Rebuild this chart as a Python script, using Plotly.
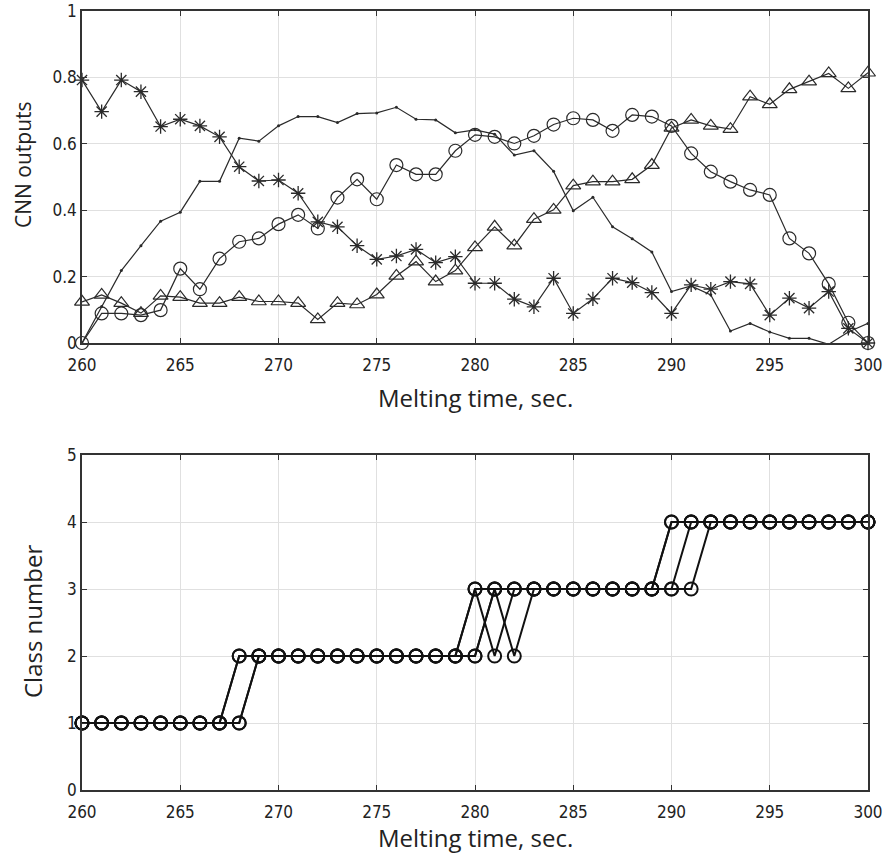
import plotly.graph_objects as go

t = list(range(260, 301))

dots = [0.0, 0.11, 0.218, 0.293, 0.367, 0.394, 0.487, 0.487, 0.617, 0.608, 0.654,
        0.682, 0.682, 0.664, 0.691, 0.693, 0.71, 0.674, 0.672, 0.633, 0.642,
        0.629, 0.566, 0.579, 0.517, 0.398, 0.439, 0.350, 0.314, 0.274, 0.155,
        0.172, 0.145, 0.036, 0.059, 0.033, 0.014, 0.014, -0.004, 0.033, 0.059]

stars = [0.792, 0.697, 0.792, 0.757, 0.652, 0.674, 0.654, 0.621, 0.531, 0.488, 0.491,
         0.451, 0.365, 0.350, 0.293, 0.252, 0.262, 0.282, 0.242, 0.260, 0.180,
         0.180, 0.132, 0.109, 0.195, 0.089, 0.133, 0.195, 0.182, 0.152, 0.089,
         0.175, 0.162, 0.185, 0.178, 0.084, 0.135, 0.105, 0.155, 0.044, 0.0]

circles = [0.0, 0.089, 0.089, 0.084, 0.099, 0.224, 0.162, 0.254, 0.305, 0.315, 0.358,
           0.386, 0.345, 0.438, 0.493, 0.433, 0.536, 0.508, 0.508, 0.579, 0.627,
           0.621, 0.601, 0.624, 0.658, 0.677, 0.672, 0.639, 0.687, 0.682, 0.654,
           0.571, 0.516, 0.486, 0.461, 0.446, 0.315, 0.270, 0.178, 0.061, 0.0]

triangles = [0.124, 0.145, 0.120, 0.09, 0.142, 0.138, 0.12, 0.12, 0.138, 0.125, 0.125,
             0.12, 0.071, 0.12, 0.116, 0.146, 0.202, 0.245, 0.185, 0.218, 0.288,
             0.350, 0.293, 0.373, 0.401, 0.474, 0.486, 0.486, 0.493, 0.536, 0.648,
             0.672, 0.654, 0.644, 0.742, 0.719, 0.764, 0.787, 0.812, 0.767, 0.814]

# Class number sequences (several runs)
class_a = [1]*8 + [2]*12 + [3]*10 + [4]*11          # 260-267:1, 268-279:2, 280-289:3, 290-300:4
class_b = [1]*9 + [2]*12 + [3]*10 + [4]*10          # 260-268:1, 269-280:2, 281-290:3, 291-300:4
class_c = [1]*8 + [2]*12 + [3, 2] + [3]*10 + [4]*9  # 280:3, 281:2, 282-291:3, 292-300:4
class_d = [1]*9 + [2]*12 + [3, 2] + [3]*7 + [4]*11  # 281:3, 282:2, 283-289:3, 290-300:4

x_title = "Melting time, sec."
y_title_top = "CNN outputs"
y_title_bottom = "Class number"

line_col = "#2a2a2a"
tick_font = dict(family="DejaVu Sans Condensed, Liberation Sans Narrow, Roboto, Arial", size=17, color="#222")
title_font = dict(family="Open Sans, Noto Sans, Arial", size=24, color="#222")

fig = go.Figure()

common = dict(mode="lines+markers", line=dict(color=line_col, width=1.2), cliponaxis=False,
              showlegend=False, xaxis="x", yaxis="y", hoverinfo="skip")
fig.add_trace(go.Scatter(x=t, y=dots, marker=dict(symbol="circle", size=3, color=line_col), **common))
fig.add_trace(go.Scatter(x=t, y=stars, marker=dict(symbol="asterisk-open", size=12,
                         line=dict(color=line_col, width=1.3)), **common))
fig.add_trace(go.Scatter(x=t, y=circles, marker=dict(symbol="circle-open", size=13,
                         line=dict(color=line_col, width=1.2)), **common))
fig.add_trace(go.Scatter(x=t, y=triangles, marker=dict(symbol="triangle-up-open", size=13,
                         line=dict(color=line_col, width=1.2)), **common))

for seq in [class_a, class_b, class_c, class_d]:
    fig.add_trace(go.Scatter(x=t, y=seq, mode="lines+markers", cliponaxis=False, showlegend=False,
                             line=dict(color="#111", width=2), hoverinfo="skip",
                             marker=dict(symbol="circle-open", size=13, line=dict(color="#111", width=2)),
                             xaxis="x2", yaxis="y2"))

axis_common = dict(showline=True, linecolor="#333", linewidth=1.5, mirror="ticks",
                   ticks="inside", ticklen=5, tickcolor="#333", showgrid=True,
                   gridcolor="#e0e0e0", gridwidth=1, zeroline=False, tickfont=tick_font,
                   automargin=False)

H = 859
mt, mb = 11, 69
ph = H - mt - mb


def py(px):
    return (H - mb - px) / ph


fig.update_layout(
    width=886, height=H,
    margin=dict(l=82, r=18, t=mt, b=mb),
    paper_bgcolor="white", plot_bgcolor="white",
    xaxis=dict(domain=[0, 1], range=[260, 300], dtick=5, anchor="y", ticklabelstandoff=6, **axis_common),
    yaxis=dict(domain=[py(343), 1.0], range=[0, 1], dtick=0.2, anchor="x", **axis_common),
    xaxis2=dict(domain=[0, 1], range=[260, 300], dtick=5, anchor="y2", ticklabelstandoff=6, **axis_common),
    yaxis2=dict(domain=[0, py(455)], range=[0, 5], dtick=1, anchor="x2", **axis_common),
)

annos = [
    dict(text=x_title, x=0.5, y=py(397), xref="paper", yref="paper", xanchor="center", yanchor="middle"),
    dict(text=x_title, x=0.5, y=py(838), xref="paper", yref="paper", xanchor="center", yanchor="middle"),
    dict(text=y_title_top, x=(23 - 82) / 786, y=py(164), xref="paper", yref="paper",
         xanchor="center", yanchor="middle", textangle=-90, font=dict(size=21)),
    dict(text=y_title_bottom, x=(32 - 82) / 786, y=py(622), xref="paper", yref="paper",
         xanchor="center", yanchor="middle", textangle=-90),
]
for a in annos:
    f = dict(title_font)
    f.update(a.get("font", {}))
    a.update(showarrow=False, font=f)
fig.update_layout(annotations=annos)

fig.write_html("out.html", config={"displayModeBar": False},
               post_script="document.body.style.margin='0px';")
